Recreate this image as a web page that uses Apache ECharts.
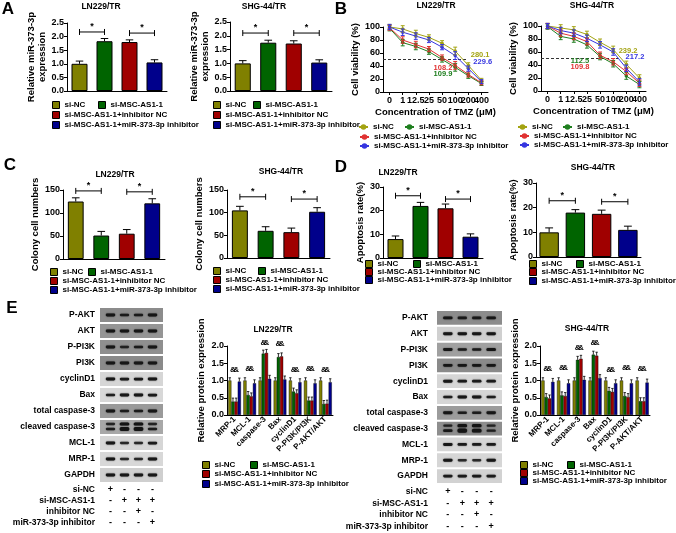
<!DOCTYPE html>
<html><head><meta charset="utf-8">
<script src="https://cdn.jsdelivr.net/npm/echarts@6/dist/echarts.min.js"></script>
<style>html,body{margin:0;padding:0;background:#fff}#c{width:676px;height:533px}</style>
</head><body><div id="c"></div><script>
// ================= DATA =================
const groupNames = ['si-NC','si-MSC-AS1-1','si-MSC-AS1-1+inhibitor NC','si-MSC-AS1-1+miR-373-3p inhibitor'];
const cellLines = ['LN229/TR','SHG-44/TR'];
// A: relative miR-373-3p expression
const mirLN = [1.00,1.83,1.80,1.05];
const mirLNErr = [0.10,0.10,0.08,0.10];
const mirSHG = [1.00,1.75,1.72,1.03];
const mirSHGErr = [0.10,0.09,0.10,0.10];
// B: cell viability vs TMZ
const tmzConc = ['0','1','12.5','25','50','100','200','400'];
const viabLN_NC    = [100,97,90,84,75,63,41,18];
const viabLN_MSC   = [98,76,70,62,50,38,25,13];
const viabLN_inhNC = [99,80,73,66,53,41,27,14];
const viabLN_inh   = [100,92,86,80,69,56,36,16];
const viabLNErr    = [4,5,5,4,4,6,4,3];
const viabSHG_NC    = [100,97,94,87,75,64,41,20];
const viabSHG_MSC   = [99,84,80,71,53,42,23,10];
const viabSHG_inhNC = [100,89,84,76,55,45,30,12];
const viabSHG_inh   = [100,93,89,81,71,60,35,14];
const viabSHGErr    = [4,5,5,5,5,5,5,5];
const ic50LN  = ['280.1','109.9','108.2','229.6'];
const ic50SHG = ['239.2','112.5','109.8','217.2'];
// C: colony numbers
const colonyLN = [125,51,55,121];
const colonyLNErr = [8,9,9,10];
const colonySHG = [105,60,57,102];
const colonySHGErr = [9,9,9,9];
// D: apoptosis rate
const apopLN = [8,22,21,9];
const apopLNErr = [1.3,1.5,1.8,1.2];
const apopSHG = [10,18,17.5,11];
const apopSHGErr = [1.8,1.2,1.5,1.5];
// E: relative protein expression
const proteinCats = ['MRP-1','MCL-1','caspase-3','Bax','cyclinD1','P-PI3K/PI3K','P-AKT/AKT'];
const protLN_NC    = [1,1,1,1,1,1,1];
const protLN_MSC   = [0.39,0.58,1.78,1.68,0.68,0.42,0.32];
const protLN_inhNC = [0.39,0.54,1.80,1.70,0.63,0.42,0.33];
const protLN_inh   = [0.97,0.92,1.05,1.03,0.95,0.92,0.95];
const protSHG_NC    = [1,1,1,1,1,1,1];
const protSHG_MSC   = [0.52,0.57,1.60,1.75,0.70,0.55,0.40];
const protSHG_inhNC = [0.48,0.55,1.63,1.72,0.67,0.52,0.40];
const protSHG_inh   = [0.96,0.92,1.02,1.07,0.92,0.92,0.94];
const protErrNC  = [0.08,0.08,0.08,0.08,0.08,0.08,0.08];
const protErrTrt = [0.10,0.10,0.10,0.10,0.10,0.10,0.10];
const protSigLN  = [1.30,1.35,2.10,2.05,1.30,1.35,1.30];
const protSigSHG = [1.34,1.37,1.96,2.10,1.30,1.37,1.34];
// E: western blots
const blotRows = ['P-AKT','AKT','P-PI3K','PI3K','cyclinD1','Bax','total caspase-3','cleaved caspase-3','MCL-1','MRP-1','GAPDH'];
const treatRows = ['si-NC','si-MSC-AS1-1','inhibitor NC','miR-373-3p inhibitor'];
const treatSigns = [['+','-','-','-'],['-','+','+','+'],['-','-','+','-'],['-','-','-','+']];
const blotBgLN  = ['#8c8c8c','#959595','#8f8f8f','#8a8a8a','#d6d6d6','#d8d8d8','#9a9a9a','#a8a8a8','#d6d6d6','#d8d8d8','#cfcfcf'];
const blotBgSHG = ['#8c8c8c','#d0d0d0','#a0a0a0','#8a8a8a','#d6d6d6','#d6d6d6','#9c9c9c','#8e8e8e','#d6d6d6','#d6d6d6','#d2d2d2'];
const bandsLN = [[1,0.8,0.8,1],[1,1,1,1],[1,0.6,0.8,1],[1,1,1,1],[1,0.9,0.9,1],[0.8,1,1,0.9],[1,0.8,0.8,1],[0.8,1.7,1.7,0.8],[1,0.6,0.6,0.9],[1,0.6,0.6,1],[1,1,1,1]];
const cleavedUpperLN = [0.6,1.2,1.2,0.6];
const bandsSHG = [[1,0.8,0.8,1],[1,1,1,1],[1,0.8,0.8,1.1],[1,1,1,1],[1,0.9,0.9,0.9],[0.8,1,1,0.8],[1,0.8,0.8,1],[0.9,1.8,1.6,0.7],[1,0.9,0.9,0.9],[1,0.6,0.6,1],[0.9,0.9,0.9,0.9]];
const cleavedUpperSHG = [0.6,1.2,1.2,0.5];

// ================= STYLE =================
const FONT = '"Liberation Sans", Arial, sans-serif';
const BOLD = {color:'#000', fontWeight:'bold', fontFamily:FONT};
const barColors = ['#808000','#006400','#a00000','#00008b'];
const lineColors = ['#a3a312','#1f7f1f','#e03232','#3535e0'];
const AXL = {show:true, lineStyle:{color:'#000', width:1}};
const grids=[], xAxes=[], yAxes=[], series=[], legends=[], texts=[];

function errBarSeries(xi, yi, vals, errs, capFrac, color, both){
  return {type:'custom', xAxisIndex:xi, yAxisIndex:yi, z:5, silent:true,
    data: vals.map((v,i)=>[i, v, errs[i]]),
    renderItem:(p,api)=>{
      const i=api.value(0), v=api.value(1), e=api.value(2);
      const top=api.coord([i,v+e]), bot=api.coord([i, both? v-e : v]);
      const cw=api.size([1,0])[0]*capFrac/2;
      const st={stroke:color,lineWidth:1};
      const ch=[{type:'line',shape:{x1:top[0],y1:top[1],x2:bot[0],y2:bot[1]},style:st},
                {type:'line',shape:{x1:top[0]-cw,y1:top[1],x2:top[0]+cw,y2:top[1]},style:st}];
      if(both) ch.push({type:'line',shape:{x1:bot[0]-cw,y1:bot[1],x2:bot[0]+cw,y2:bot[1]},style:st});
      return {type:'group',children:ch};
    }};
}
function bracketSeries(xi, yi, br){
  return {type:'custom', xAxisIndex:xi, yAxisIndex:yi, z:6, silent:true, data:br,
    renderItem:(p,api)=>{
      const a=api.coord([api.value(0),api.value(2)]), b=api.coord([api.value(1),api.value(2)]);
      const st={stroke:'#000',lineWidth:1};
      return {type:'group',children:[
        {type:'line',shape:{x1:a[0],y1:a[1],x2:b[0],y2:b[1]},style:st},
        {type:'line',shape:{x1:a[0],y1:a[1]-3,x2:a[0],y2:a[1]+3},style:st},
        {type:'line',shape:{x1:b[0],y1:b[1]-3,x2:b[0],y2:b[1]+3},style:st},
        {type:'text',x:(a[0]+b[0])/2,y:a[1]-1,style:{text:'*',font:'bold 9px '+FONT,fill:'#000',align:'center',verticalAlign:'bottom'}}]};
    }};
}
function yAxisCfg(gi, max, interval, name, nameGap, fmt){
  return {gridIndex:gi,type:'value',min:0,max,interval,name,nameLocation:'middle',nameGap,
    nameTextStyle:{...BOLD,fontSize:9.5,lineHeight:11},axisLine:AXL,
    axisTick:{show:true,length:3,lineStyle:{color:'#000'}},
    axisLabel:{...BOLD,fontSize:9,margin:3,formatter:fmt},splitLine:{show:false}};
}
function barPanel(o){
  const gi=grids.push({left:o.left,top:o.top,width:o.width,height:o.height})-1;
  const xi=xAxes.push({gridIndex:gi,type:'category',data:groupNames,axisLine:AXL,axisTick:{show:false},axisLabel:{show:false}})-1;
  const yi=yAxes.push(yAxisCfg(gi,o.max,o.interval,o.name,o.nameGap,o.fmt))-1;
  groupNames.forEach((g,k)=>series.push({type:'bar',name:g,xAxisIndex:xi,yAxisIndex:yi,barWidth:o.barWidth,barGap:'-100%',
    data:o.vals.map((v,i)=>i===k?v:'-'),itemStyle:{color:barColors[k],borderColor:'#000',borderWidth:1},silent:true}));
  series.push(errBarSeries(xi,yi,o.vals,o.errs,0.3,'#000',false));
  series.push(bracketSeries(xi,yi,o.brackets));
}
function linePanel(o){
  const gi=grids.push({left:o.left,top:o.top,width:o.width,height:o.height})-1;
  const xi=xAxes.push({gridIndex:gi,type:'category',data:tmzConc,boundaryGap:true,axisLine:AXL,
    axisTick:{show:true,alignWithLabel:true,length:3,lineStyle:{color:'#000'}},
    axisLabel:{...BOLD,fontSize:9,margin:4,interval:0},
    name:'Concentration of TMZ (\u03bcM)',nameLocation:'middle',nameGap:15,nameTextStyle:{...BOLD,fontSize:9.5}})-1;
  const yi=yAxes.push(yAxisCfg(gi,100,20,'Cell viability (%)',o.nameGap))-1;
  o.lines.forEach((arr,k)=>{
    series.push({type:'line',name:'B:'+groupNames[k],xAxisIndex:xi,yAxisIndex:yi,data:arr,symbol:'circle',symbolSize:3.5,
      lineStyle:{width:1,color:lineColors[k]},itemStyle:{color:lineColors[k]},silent:true,z:3});
    series.push(errBarSeries(xi,yi,arr,o.err,0.3,lineColors[k],true));
  });
  series.push({type:'custom',xAxisIndex:xi,yAxisIndex:yi,z:2,silent:true,data:[[o.threshCat,50,o.threshFrac]],
    renderItem:(p,api)=>{const c=api.coord([api.value(0),api.value(1)]);const w=api.size([1,0])[0];
      return {type:'line',shape:{x1:p.coordSys.x,y1:c[1],x2:c[0]+api.value(2)*w,y2:c[1]},style:{stroke:'#333',lineWidth:1,lineDash:[3,2]}};}});
  series.push({type:'custom',xAxisIndex:xi,yAxisIndex:yi,z:10,silent:true,data:o.icPos.map((q,k)=>[q[0],q[1],k,q[2]]),
    renderItem:(p,api)=>{const k=api.value(2);const c=api.coord([api.value(0),api.value(1)]);const w=api.size([1,0])[0];
      return {type:'text',x:c[0]+api.value(3)*w,y:c[1],style:{text:o.ic50[k],font:'bold 7.5px '+FONT,fill:lineColors[k],align:'center',verticalAlign:'middle'}};}});
}
function protPanel(o){
  const gi=grids.push({left:o.left,top:o.top,width:o.width,height:o.height})-1;
  const xi=xAxes.push({gridIndex:gi,type:'category',data:proteinCats,axisLine:AXL,axisTick:{show:false},
    axisLabel:{...BOLD,fontSize:8,rotate:45,interval:0,margin:3}})-1;
  const yi=yAxes.push(yAxisCfg(gi,2,0.5,'Relative protein expression',o.nameGap,v=>v.toFixed(1)))-1;
  const gapFrac=0.16;
  o.sets.forEach((arr,k)=>{
    series.push({type:'bar',name:groupNames[k],xAxisIndex:xi,yAxisIndex:yi,data:arr,barGap:'0%',barCategoryGap:(gapFrac*100)+'%',
      itemStyle:{color:barColors[k],borderColor:'#000',borderWidth:0.4},silent:true});
    const errs = k===0? protErrNC : protErrTrt;
    series.push({type:'custom',xAxisIndex:xi,yAxisIndex:yi,z:6,silent:true,
      data:arr.map((v,i)=>[i,v,errs[i],(k===1||k===2)?o.sig[i]:-1]),
      renderItem:(p,api)=>{
        const i=api.value(0),v=api.value(1),e=api.value(2),s=api.value(3);
        const band=api.size([1,0])[0]; const bw=band*(1-gapFrac)/4; const off=-band*(1-gapFrac)/2+(k+0.5)*bw;
        const a=api.coord([i,v]), b=api.coord([i,v+e]); const x=a[0]+off;
        const st={stroke:'#000',lineWidth:0.8};
        const ch=[{type:'line',shape:{x1:x,y1:a[1],x2:x,y2:b[1]},style:st},
                  {type:'line',shape:{x1:x-1.2,y1:b[1],x2:x+1.2,y2:b[1]},style:st}];
        if(s>0){const c=api.coord([i,s]);ch.push({type:'text',x:x,y:c[1],style:{text:'&',font:'bold 8px '+FONT,fill:'#000',align:'center',verticalAlign:'middle'}});}
        return {type:'group',children:ch};
      }});
  });
}
function blotPanel(o){
  const gi=grids.push({left:o.left,top:o.top,width:o.width,height:o.height})-1;
  const xi=xAxes.push({gridIndex:gi,type:'value',min:-0.75,max:3.75,show:false})-1;
  const yi=yAxes.push({gridIndex:gi,type:'category',data:blotRows,inverse:true,axisLine:{show:false},axisTick:{show:false},
    axisLabel:{...BOLD,fontSize:8.5,margin:o.margin,interval:0}})-1;
  series.push({type:'custom',xAxisIndex:xi,yAxisIndex:yi,silent:true,z:1,data:o.bg.map((c,i)=>[0,i]),
    renderItem:(p,api)=>{const r=p.dataIndex;const c=api.coord([0,r]);const h=api.size([0,1])[1];
      return {type:'rect',shape:{x:p.coordSys.x,y:c[1]-h/2+1,width:p.coordSys.width,height:h-2},style:{fill:o.bg[r]}};}});
  const bandData=[];
  o.bands.forEach((row,r)=>row.forEach((s,l)=>bandData.push([l,r,s,r===7?2:0])));
  o.upper.forEach((s,l)=>bandData.push([l,7,s,-3]));
  series.push({type:'custom',xAxisIndex:xi,yAxisIndex:yi,silent:true,z:2,data:bandData,
    renderItem:(p,api)=>{const s=api.value(2);const c=api.coord([api.value(0),api.value(1)]);
      const w=9.5*(0.9+0.1*Math.min(s,1.3)), h=1.4+1.5*s;
      return {type:'rect',shape:{x:c[0]-w/2,y:c[1]+api.value(3)-h/2,width:w,height:h,r:h/2},
        style:{fill:'#141414',opacity:Math.min(1,0.55+0.4*s),shadowBlur:1.5,shadowColor:'rgba(0,0,0,0.7)'}};}});
  const gt=grids.push({left:o.left,top:o.tTop,width:o.width,height:o.tHeight})-1;
  const xt=xAxes.push({gridIndex:gt,type:'value',min:-0.75,max:3.75,show:false})-1;
  const yt=yAxes.push({gridIndex:gt,type:'category',data:treatRows,inverse:true,axisLine:{show:false},axisTick:{show:false},
    axisLabel:{...BOLD,fontSize:8.5,margin:o.margin,interval:0}})-1;
  const sd=[]; treatSigns.forEach((row,r)=>row.forEach((s,l)=>sd.push([l,r])));
  series.push({type:'custom',xAxisIndex:xt,yAxisIndex:yt,silent:true,data:sd,
    renderItem:(p,api)=>{const l=api.value(0),r=api.value(1);const c=api.coord([l,r]);
      return {type:'text',x:c[0],y:c[1],style:{text:treatSigns[r][l],font:'bold 9px '+FONT,fill:'#000',align:'center',verticalAlign:'middle'}};}});
}
function legendItem(name, left, yc, isLine){
  legends.push({show:true,left,top:yc-5,padding:0,itemWidth:isLine?9:7,itemHeight:7,selectedMode:false,
    data:[isLine?{name:'B:'+name}:{name,icon:'rect',itemStyle:{borderColor:'#000',borderWidth:1}}],
    formatter:n=>n.replace(/^B:/,''),textStyle:{...BOLD,fontSize:8,lineHeight:10}});
}
function legendBlock(x1,x2,x3,ys,isLine){
  legendItem(groupNames[0],x1,ys[0],isLine);
  legendItem(groupNames[1],x2,ys[0],isLine);
  legendItem(groupNames[2],x3,ys[1],isLine);
  legendItem(groupNames[3],x3,ys[2],isLine);
}
function label(text,x,y,size){
  texts.push({type:'text',x,y,silent:true,style:{text,font:'bold '+size+'px '+FONT,fill:'#000',align:'center',verticalAlign:'middle'}});
}

// ================= PANELS =================
const fmt1 = v=>v.toFixed(1);
barPanel({left:67,top:23,width:100,height:68,vals:mirLN,errs:mirLNErr,max:2.5,interval:0.5,name:'Relative miR-373-3p\nexpression',nameGap:19,fmt:fmt1,barWidth:'64%',brackets:[[0,1,2.17],[2,3,2.13]]});
barPanel({left:230,top:22,width:102,height:69,vals:mirSHG,errs:mirSHGErr,max:2.5,interval:0.5,name:'Relative miR-373-3p\nexpression',nameGap:15,fmt:fmt1,barWidth:'63%',brackets:[[0,1,2.1],[2,3,2.1]]});
legendBlock(52,98,52,[105,115,125],false);
legendBlock(213,253,213,[105,115,125],false);
linePanel({left:383,top:27,width:105,height:65,lines:[viabLN_NC,viabLN_MSC,viabLN_inhNC,viabLN_inh],err:viabLNErr,nameGap:15,
  threshCat:6,threshFrac:-0.1,ic50:ic50LN,icPos:[[7,57,-0.1],[4,28,0.07],[4,37,0.07],[7,46,0.1]]});
linePanel({left:541,top:26,width:105,height:65,lines:[viabSHG_NC,viabSHG_MSC,viabSHG_inhNC,viabSHG_inh],err:viabSHGErr,nameGap:20,
  threshCat:5,threshFrac:0.37,ic50:ic50SHG,icPos:[[6,61.5,0.13],[2,46,0.47],[2,37,0.47],[7,52,-0.34]]});
legendBlock(358,404,359,[127,137,146],true);
legendBlock(517,562,519,[127,136,145],true);
barPanel({left:63,top:190,width:102,height:69,vals:colonyLN,errs:colonyLNErr,max:150,interval:50,name:'Colony cell numbers',nameGap:17,barWidth:'62%',brackets:[[0,1,148],[2,3,146]]});
barPanel({left:227,top:190,width:103,height:68,vals:colonySHG,errs:colonySHGErr,max:150,interval:50,name:'Colony cell numbers',nameGap:19,barWidth:'62%',brackets:[[0,1,135],[2,3,130]]});
legendBlock(50,88,50,[272,281,290],false);
legendBlock(213,258,213,[271,280,289],false);
barPanel({left:383,top:187,width:100,height:71,vals:apopLN,errs:apopLNErr,max:30,interval:10,name:'Apoptosis rate(%)',nameGap:12,barWidth:'64%',brackets:[[0,1,26.3],[2,3,24.9]]});
barPanel({left:536,top:183,width:105,height:74,vals:apopSHG,errs:apopSHGErr,max:30,interval:10,name:'Apoptosis rate(%)',nameGap:11,barWidth:'74%',brackets:[[0,1,22.8],[2,3,22.4]]});
legendBlock(365,413,365,[264,272,280],false);
legendBlock(529,576,529,[264,272,281],false);
blotPanel({left:100,top:307,width:63,height:176,bg:blotBgLN,bands:bandsLN,upper:cleavedUpperLN,margin:5,tTop:484,tHeight:44});
blotPanel({left:437,top:310,width:65,height:174,bg:blotBgSHG,bands:bandsSHG,upper:cleavedUpperSHG,margin:9,tTop:486,tHeight:46});
protPanel({left:227,top:346,width:106,height:69,sets:[protLN_NC,protLN_MSC,protLN_inhNC,protLN_inh],sig:protSigLN,nameGap:20});
protPanel({left:540,top:346,width:110,height:69,sets:[protSHG_NC,protSHG_MSC,protSHG_inhNC,protSHG_inh],sig:protSigSHG,nameGap:18});
legendBlock(202,250,202,[465,474,484],false);
legendBlock(520,567,520,[465,473,481],false);

label(cellLines[0],101,6.5,8.5); label(cellLines[1],264,6.5,8.5);
label(cellLines[0],436,5.5,8.5); label(cellLines[1],592,5.5,8.5);
label(cellLines[0],115,175,8.5); label(cellLines[1],281,172,8.5);
label(cellLines[0],398,173,8.5); label(cellLines[1],593,168,8.5);
label(cellLines[0],273,330,8.5); label(cellLines[1],587,329,8.5);
label('A',8,9,17); label('B',341,9,17); label('C',10,165,17); label('D',341,167,17); label('E',12,308,17);

const chart = echarts.init(document.getElementById('c'));
chart.setOption({animation:false,backgroundColor:'#fff',textStyle:{fontFamily:FONT},
  grid:grids,xAxis:xAxes,yAxis:yAxes,series,legend:legends,graphic:{elements:texts}});
</script></body></html>
